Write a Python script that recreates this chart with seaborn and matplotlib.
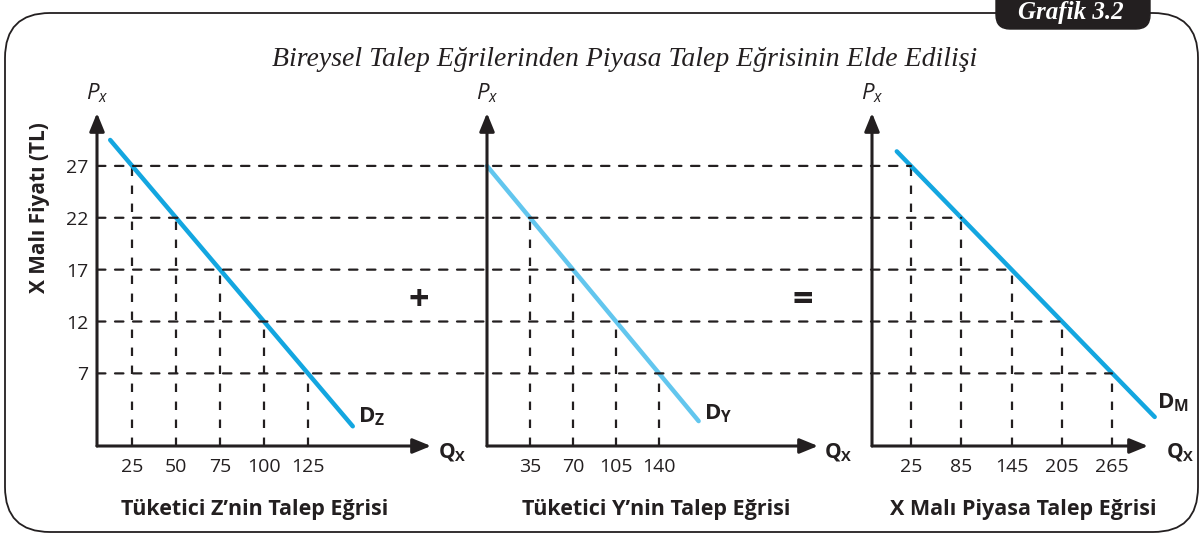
import numpy as np
import pandas as pd
import matplotlib
matplotlib.use('Agg')
import matplotlib.pyplot as plt
from matplotlib.patches import FancyBboxPatch, ConnectionPatch
from matplotlib.transforms import ScaledTranslation
import seaborn as sns

############################
# data
############################

# price levels (TL)
prices = [27, 22, 17, 12, 7]

# consumer Z
q_z = [25, 50, 75, 100, 125]
# consumer Y (buys nothing at 27)
q_y = [35, 70, 105, 140]
p_y = [22, 17, 12, 7]
# market = Z + Y
q_m = [25, 85, 145, 205, 265]

# where the drawn demand lines start / stop
line_z_q = [12.5, 150.5]
line_z_p = [29.5, 1.9]
line_y_q = [0, 172]
line_y_p = [27, 2.4]
line_m_q = [8, 316]
line_m_p = [28.4, 2.8]

panel_titles = ["Tüketici Z’nin Talep Eğrisi", "Tüketici Y’nin Talep Eğrisi", "X Malı Piyasa Talep Eğrisi"]
curve_names = [r'$\mathbf{D_Z}$', r'$\mathbf{D_Y}$', r'$\mathbf{D_M}$']

############################
# style
############################
sns.set_style('white')
plt.rcParams['font.family'] = ['Open Sans', 'DejaVu Sans']
plt.rcParams['mathtext.fontset'] = 'custom'
plt.rcParams['mathtext.rm'] = 'Open Sans'
plt.rcParams['mathtext.it'] = 'Open Sans:italic'
plt.rcParams['mathtext.bf'] = 'Open Sans:bold'

ink = '#231f20'
blue = '#13a6e0'
light_blue = '#62c6ee'
dash = (0, (3.8, 4.3))

W, H = 1203, 535
fig = plt.figure(figsize=(W / 100, H / 100), dpi=100)

def px_axes(left, top, right, bottom):
    return fig.add_axes([left / W, 1 - bottom / H, (right - left) / W, (bottom - top) / H])

# background frame + tab
bg = fig.add_axes([0, 0, 1, 1], zorder=-5)
bg.set_xlim(0, W)
bg.set_ylim(H, 0)
bg.axis('off')
bg.add_patch(FancyBboxPatch((5, 13), 1193, 519, boxstyle='round,pad=0,rounding_size=45',
                            fc='white', ec=ink, lw=1.3))
bg.add_patch(FancyBboxPatch((996, -20), 154, 49, boxstyle='round,pad=0,rounding_size=14',
                            fc=ink, ec=ink, lw=1))
bg.text(1071, 13, 'Grafik 3.2', color='white', fontsize=18, fontweight='bold', style='italic',
        family='Liberation Serif', ha='center', va='center')
bg.text(625, 59, 'Bireysel Talep Eğrilerinden Piyasa Talep Eğrisinin Elde Edilişi',
        fontsize=20, style='italic', family='Liberation Serif', color=ink, ha='center', va='center')

ax1 = px_axes(97, 113, 431, 446)
ax2 = px_axes(487, 113, 818, 446)
ax3 = px_axes(872, 113, 1148, 446)
axes = [ax1, ax2, ax3]

xlims = [(5, 195), (0, 269), (-21.6, 308)]
ticks = [q_z, q_y, q_m]
tick_p = [prices, p_y, prices]
lines = [(line_z_q, line_z_p, blue), (line_y_q, line_y_p, light_blue), (line_m_q, line_m_p, blue)]
name_offsets = [(4, 7), (4, 5), (2, 10)]
qx_offsets = [5, 4, 13]

for i, ax in enumerate(axes):
    ax.set_xlim(*xlims[i])
    ax.set_ylim(0, 32.1)
    ax.patch.set_alpha(0)
    for s in ax.spines.values():
        s.set_visible(False)

    # vertical guides down to the quantity axis
    for q, p in zip(ticks[i], tick_p[i]):
        ax.plot([q, q], [0, p], color=ink, lw=1.6, ls=dash, zorder=2)

    lq, lp, col = lines[i]
    df = pd.DataFrame({'Q': lq, 'P': lp})
    sns.lineplot(data=df, x='Q', y='P', ax=ax, color=col, lw=3.2, zorder=4, clip_on=False)
    ax.set_xlabel('')
    ax.set_ylabel('')

    ax.annotate(curve_names[i], xy=(lq[1], lp[1]), xytext=name_offsets[i], textcoords='offset points',
                fontsize=16, color=ink, ha='left', va='center', annotation_clip=False)

    # axis arrows
    for tip in [(1, 0), (0, 1)]:
        ax.annotate('', xy=tip, xytext=(0, 0), xycoords='axes fraction',
                    arrowprops=dict(arrowstyle='-|>,head_length=1.1,head_width=0.45', lw=2.2,
                                    color=ink, shrinkA=0, shrinkB=0), zorder=5)
    ax.text(1, 0, r'$\mathbf{Q_X}$', fontsize=15, color=ink, ha='left', va='center',
            transform=ax.transAxes + ScaledTranslation(qx_offsets[i] / 72, -5 / 72, fig.dpi_scale_trans))
    ax.annotate(r'$P_x$', xy=(0, 1), xycoords='axes fraction', xytext=(0, 14),
                textcoords='offset points', fontsize=16, color=ink, ha='center', va='center')

    ax.set_xticks(ticks[i])
    ax.set_xticklabels([str(v) for v in ticks[i]], fontsize=14, color=ink)
    ax.tick_params(axis='x', length=0, pad=9)
    if i == 0:
        ax.set_yticks(prices)
        ax.set_yticklabels([str(v) for v in prices], fontsize=14, color=ink)
        ax.tick_params(axis='y', length=0, pad=6)
    else:
        ax.set_yticks([])

# horizontal guides run across all three panels
for p, q in zip(prices, q_m):
    con = ConnectionPatch(xyA=(xlims[0][0], p), coordsA=ax1.transData,
                          xyB=(q, p), coordsB=ax3.transData,
                          color=ink, lw=1.6, ls=dash, zorder=1)
    fig.add_artist(con)

fig.text(40 / W, 1 - 208 / H, 'X Malı Fiyatı (TL)', rotation=90, fontsize=15, fontweight='bold',
         color=ink, ha='center', va='center')

fig.text(419 / W, 1 - 301 / H, '+', fontsize=26, fontweight='bold', color=ink, ha='center', va='center')
fig.text(803 / W, 1 - 301 / H, '=', fontsize=26, fontweight='bold', color=ink, ha='center', va='center')

for cx, title in zip([255, 656, 1023], panel_titles):
    fig.text(cx / W, 1 - 510 / H, title, fontsize=15.5, fontweight='bold', color=ink,
             ha='center', va='center')

fig.savefig('out.png', dpi=100)
